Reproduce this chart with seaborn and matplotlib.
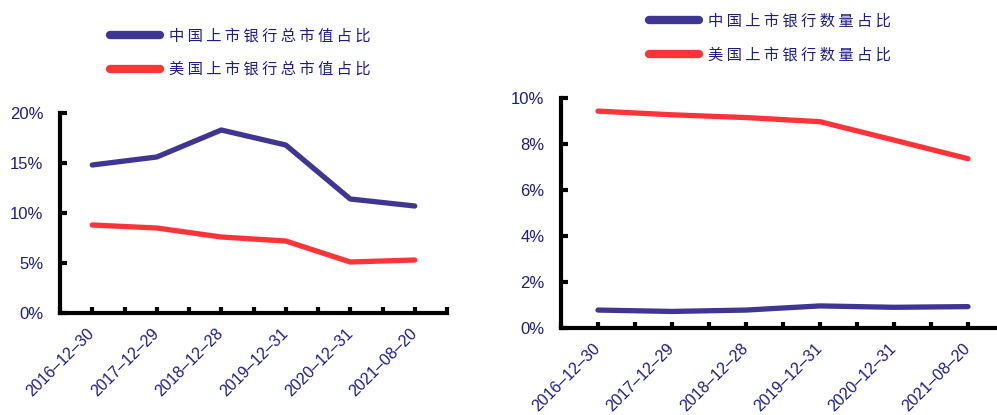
import numpy as np
import pandas as pd
import matplotlib
matplotlib.use("Agg")
import matplotlib.pyplot as plt
import seaborn as sns
from matplotlib.ticker import FuncFormatter

sns.set_theme(style="white")
plt.rcParams["font.family"] = ["Liberation Sans", "DejaVu Sans"]

dates = ["2016-12-30", "2017-12-29", "2018-12-28", "2019-12-31", "2020-12-31", "2021-08-20"]

# market value share (%)
cn_mv = [14.8, 15.6, 18.3, 16.8, 11.4, 10.7]
us_mv = [8.8, 8.5, 7.6, 7.2, 5.1, 5.3]
mv_names = ["中国上市银行总市值占比", "美国上市银行总市值占比"]

# share of listed bank count (%)
cn_cnt = [0.78, 0.72, 0.78, 0.96, 0.90, 0.93]
us_cnt = [9.43, 9.27, 9.15, 8.97, 8.17, 7.36]
cnt_names = ["中国上市银行数量占比", "美国上市银行数量占比"]

NAVY = "#3f3592"
RED = "#ff3338"
TXT = "#1c1c8a"


def long_frame(names, a, b):
    pos = np.arange(len(dates))
    return pd.concat([
        pd.DataFrame({"pos": pos, "date": dates, "value": a, "series": names[0]}),
        pd.DataFrame({"pos": pos, "date": dates, "value": b, "series": names[1]}),
    ])


fig = plt.figure(figsize=(9.97, 4.15), dpi=100)
ax1 = fig.add_axes([60 / 997, 1 - 313 / 415, 387 / 997, 200 / 415])
ax2 = fig.add_axes([561 / 997, 1 - 328 / 415, 444 / 997, 230 / 415])


def draw(ax, names, a, b, ymax, ystep, legend_xy):
    df = long_frame(names, a, b)
    sns.lineplot(data=df, x="pos", y="value", hue="series", hue_order=names,
                 palette=[NAVY, RED], linewidth=3.8, sort=False, ax=ax,
                 legend=False)
    for ln in ax.lines:
        ln.set_solid_capstyle("round")
        ln.set_solid_joinstyle("round")
    ax.set_xlim(-0.5, len(dates) - 0.5)
    ax.set_ylim(0, ymax)
    ax.set_xticks(np.arange(len(dates)))
    ax.set_xticks(np.arange(-0.5, len(dates), 1.0), minor=True)
    ax.set_xticklabels([d.replace("-", "–") for d in dates], rotation=45,
                       ha="right", va="center", rotation_mode="anchor",
                       color=TXT, fontsize=11.5)
    ax.set_yticks(np.arange(0, ymax + 0.01, ystep))
    ax.yaxis.set_major_formatter(FuncFormatter(lambda v, p: f"{v:.0f}%"))
    for lab in ax.get_yticklabels():
        lab.set_color(TXT)
        lab.set_fontsize(12)
    ax.tick_params(axis="x", which="both", direction="in", length=4, width=3,
                   color="black", pad=13, bottom=True)
    ax.tick_params(axis="y", direction="in", length=5, width=3, color="black",
                   pad=12, left=True)
    ax.set_xlabel("")
    ax.set_ylabel("")
    for side in ["top", "right"]:
        ax.spines[side].set_visible(False)
    for side in ["left", "bottom"]:
        ax.spines[side].set_linewidth(3)
        ax.spines[side].set_color("black")
        ax.spines[side].set_capstyle("projecting")
    ax.set_facecolor("white")

    handles = [plt.Line2D([], [], color=c, lw=6, solid_capstyle="round")
               for c in (NAVY, RED)]
    labels = [" ".join(n) for n in names]
    fig.legend(handles, labels, loc="center left",
               bbox_to_anchor=legend_xy, bbox_transform=fig.transFigure,
               frameon=False, borderpad=0, borderaxespad=0,
               handlelength=3.3, handletextpad=0.55, labelspacing=1.1,
               prop={"family": ["Noto Sans CJK SC", "DejaVu Sans"], "size": 11},
               labelcolor=TXT)


draw(ax1, mv_names, cn_mv, us_mv, 20, 5, (110 / 997, 1 - 52.5 / 415))
draw(ax2, cnt_names, cn_cnt, us_cnt, 10, 2, (649 / 997, 1 - 38 / 415))

fig.savefig("out.png", dpi=100, facecolor="white")
